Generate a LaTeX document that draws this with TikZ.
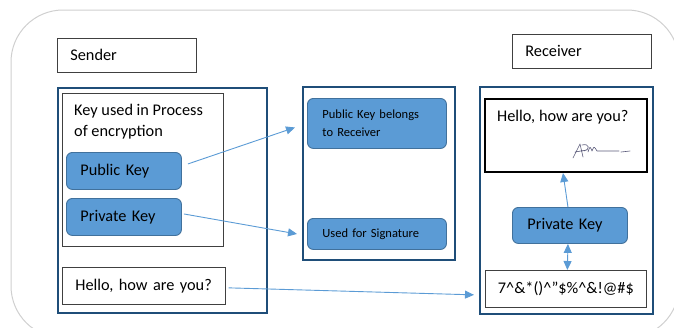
\documentclass[tikz,border=0pt]{standalone}
\usepackage{fontspec}
\setmainfont{Carlito}
\usetikzlibrary{arrows.meta, positioning}
\definecolor{keyblue}{HTML}{5B9BD5}
\definecolor{keyedge}{HTML}{41719C}
\definecolor{framenavy}{HTML}{1F4E79}
\definecolor{outergray}{HTML}{CFCFCF}
\definecolor{signink}{HTML}{5A5A7A}

\begin{document}
\begin{tikzpicture}[x=1pt, y=-1pt,
   every node/.style = {font=\fontsize{16.3}{21}\selectfont, inner ysep=0pt},
   frame/.style = {draw=framenavy, line width=1.8pt, anchor=north west},
   plain/.style = {draw=black!75, line width=0.7pt, anchor=north west, align=left},
   keybox/.style = {draw=keyedge, fill=keyblue, rounded corners=6pt,
                    line width=0.9pt, anchor=north west, align=left},
   link/.style = {draw=keyblue, line width=0.9pt, -{Triangle[length=9pt,width=8pt]}}]
   \useasboundingbox (0,0) rectangle (674,327);
   \clip (0,0) rectangle (674,327);
   \draw[outergray, line width=1pt, rounded corners=52pt] (11,10) rectangle (679,338);

   % sender side
   \node[plain, text width=113pt, inner xsep=13pt, minimum height=34pt] (sender) at (57,38) {Sender};
   \node[frame, minimum width=209pt, minimum height=225pt] (senderbox) at (57,87) {};
   \node[plain, minimum width=161pt, minimum height=153pt] (keyarea) at (62,93) {};
   \node[anchor=north west, align=left, inner sep=0pt] (keytitle) at (74,104) {Key used in Process\\of encryption};
   \node[keybox, text width=87pt, inner xsep=14pt, minimum height=37pt] (pubkey) at (66,152) {Public Key};
   \node[keybox, text width=87pt, inner xsep=14pt, minimum height=37pt] (privkey) at (66,198) {Private Key};
   \node[plain, text width=137pt, inner xsep=13pt, minimum height=37pt] (plaintext) at (62,267) {Hello, how are you?};

   % keys in the middle
   \node[frame, minimum width=152pt, minimum height=173pt] (keysbox) at (302,86) {};
   \node[keybox, text width=109pt, inner xsep=15pt, minimum height=50pt,
         font=\fontsize{12.5}{18}\selectfont] (belongs) at (307,98) {Public Key belongs\\to Receiver};
   \node[keybox, text width=109pt, inner xsep=15pt, minimum height=31pt,
         font=\fontsize{12.5}{18}\selectfont] (signature) at (307,218) {Used for Signature};

   % receiver side
   \node[plain, text width=113pt, inner xsep=13pt, minimum height=34pt] (receiver) at (512,34) {Receiver};
   \node[frame, minimum width=173pt, minimum height=227pt] (receiverbox) at (479,86) {};
   \node[draw=black, line width=2pt, anchor=north west, minimum width=162pt, minimum height=73pt] (decrypted) at (484,98) {};
   \node[anchor=north west, inner sep=0pt] (decryptedtext) at (497,110) {Hello, how are you?};
   \node[keybox, text width=85pt, inner xsep=15pt, minimum height=36pt] (rprivkey) at (512,207) {Private Key};
   \node[plain, align=center, minimum width=161pt, minimum height=37pt] (cipher) at (485,270) {7\^{}\&*()\^{}”\$\%\^{}\&!@\#\$};

   % signature scribble
   \draw[signink, line width=0.6pt, line cap=round, line join=round]
      (573,158) -- (580,144) -- (583,157) (575,152) -- (587,150)
      (582,145) .. controls (590,143) and (590,150) .. (584,151)
      (588,152) .. controls (590,146) .. (592,151) .. controls (594,146) .. (597,151) -- (619,151)
      (621,152) -- (630,151);

   \draw[link] ([shift={(6,-7)}]pubkey.east) -- ([shift={(-12,4)}]belongs.west);
   \draw[link] ([shift={(2,-3)}]privkey.east) -- ([shift={(-10,0)}]signature.west);
   \draw[link] ([shift={(3,2)}]plaintext.east) -- ([shift={(-11,6)}]cipher.west);
   \draw[link] ([xshift=-2pt]rprivkey.north) -- ([xshift=-3pt]decrypted.south);
   \draw[link, {Triangle[length=9pt,width=8pt]}-{Triangle[length=9pt,width=8pt]}]
      ([xshift=-2pt]rprivkey.south) -- ([xshift=1.5pt]cipher.north);
\end{tikzpicture}
\end{document}
